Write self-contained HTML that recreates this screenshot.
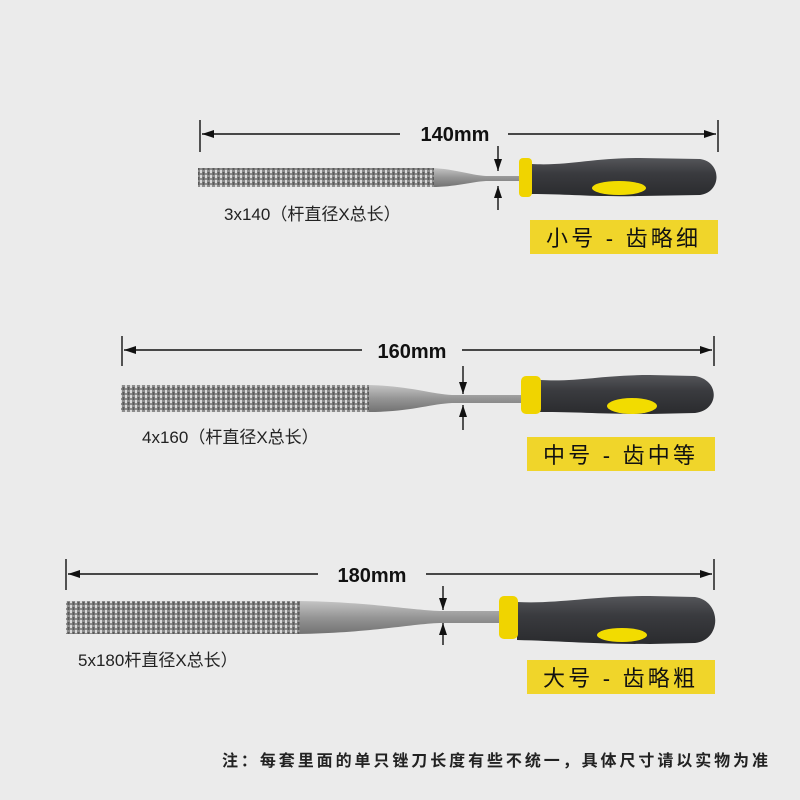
<!DOCTYPE html>
<html><head><meta charset="utf-8"><style>
body{margin:0;background:#ebebeb}
svg{display:block}
text{font-family:"Liberation Sans","Noto Sans CJK SC",sans-serif}
</style></head><body>
<svg width="800" height="800" viewBox="0 0 800 800" xmlns="http://www.w3.org/2000/svg">
<defs>
<pattern id="rasp" width="5" height="5" patternUnits="userSpaceOnUse">
<rect width="5" height="5" fill="#8c8c8c"/>
<rect x="0" y="0" width="2" height="3" fill="#dadada"/>
<rect x="2.5" y="2" width="2" height="3" fill="#5a5a5a"/>
</pattern>
<linearGradient id="steel" x1="0" y1="0" x2="0" y2="1">
<stop offset="0" stop-color="#c4c4c4"/><stop offset="0.5" stop-color="#959595"/><stop offset="1" stop-color="#727272"/>
</linearGradient>
<linearGradient id="hd" x1="0" y1="0" x2="0" y2="1">
<stop offset="0" stop-color="#55565a"/><stop offset="0.4" stop-color="#3a3b3f"/><stop offset="1" stop-color="#2a2b2e"/>
</linearGradient>
<marker id="ar" markerWidth="12" markerHeight="8" refX="12" refY="4" orient="auto" markerUnits="userSpaceOnUse">
<path d="M0,0 L12,4 L0,8 Z" fill="#111"/></marker>
</defs>
<rect width="800" height="800" fill="#ebebeb"/>
<g stroke="#111" stroke-width="1.4" fill="none">
<line x1="200" y1="120" x2="200" y2="152"/><line x1="718" y1="120" x2="718" y2="152"/>
<line x1="400" y1="134" x2="202" y2="134" marker-end="url(#ar)"/>
<line x1="508" y1="134" x2="716" y2="134" marker-end="url(#ar)"/>
<line x1="498" y1="146" x2="498" y2="171" marker-end="url(#ar)"/>
<line x1="498" y1="210" x2="498" y2="186" marker-end="url(#ar)"/>
<line x1="122" y1="336" x2="122" y2="366"/><line x1="714" y1="336" x2="714" y2="366"/>
<line x1="362" y1="350" x2="124" y2="350" marker-end="url(#ar)"/>
<line x1="462" y1="350" x2="712" y2="350" marker-end="url(#ar)"/>
<line x1="463" y1="366" x2="463" y2="394" marker-end="url(#ar)"/>
<line x1="463" y1="430" x2="463" y2="405" marker-end="url(#ar)"/>
<line x1="66" y1="559" x2="66" y2="590"/><line x1="714" y1="559" x2="714" y2="590"/>
<line x1="318" y1="574" x2="68" y2="574" marker-end="url(#ar)"/>
<line x1="426" y1="574" x2="712" y2="574" marker-end="url(#ar)"/>
<line x1="443" y1="586" x2="443" y2="610" marker-end="url(#ar)"/>
<line x1="443" y1="645" x2="443" y2="623" marker-end="url(#ar)"/>
</g>
<g font-size="20" font-weight="bold" fill="#111" text-anchor="middle">
<text x="455" y="141">140mm</text>
<text x="412" y="358">160mm</text>
<text x="372" y="582">180mm</text>
</g>
<path d="M432,168 C455,169 470,175 486,176 L520,176 L520,181 L486,181 C470,182 455,187 432,187 Z" fill="url(#steel)"/>
<rect x="198" y="168" width="236" height="19" fill="url(#rasp)"/>
<path d="M531,164 C570,166 590,158 640,158 L700,159 C722,162 722,192 700,195 L640,196 C590,197 570,194 531,194 Z" fill="url(#hd)"/>
<ellipse cx="619" cy="188" rx="27" ry="7" fill="#f2dc00"/>
<rect x="519" y="158" width="13" height="39" rx="4" fill="#f0d400"/>
<path d="M368,385 C410,386 430,394 452,395 L522,395 L522,403 L452,403 C430,404 410,412 368,412 Z" fill="url(#steel)"/>
<rect x="121" y="385" width="248" height="27" fill="url(#rasp)"/>
<path d="M540,380 C580,382 600,375 650,375 L695,376 C720,380 720,410 695,413 L650,414 C600,414 580,412 540,412 Z" fill="url(#hd)"/>
<ellipse cx="632" cy="406" rx="25" ry="8" fill="#f2dc00"/>
<rect x="521" y="376" width="20" height="38" rx="5" fill="#f0d400"/>
<path d="M298,601 C370,602 410,610 440,611 L502,611 L502,623 L440,623 C410,624 370,633 298,634 Z" fill="url(#steel)"/>
<rect x="66" y="601" width="234" height="33" fill="url(#rasp)"/>
<path d="M517,602 C560,604 590,596 650,596 L695,597 C722,601 722,640 695,643 L650,644 C590,644 560,641 517,640 Z" fill="url(#hd)"/>
<ellipse cx="622" cy="635" rx="25" ry="7" fill="#f2dc00"/>
<rect x="499" y="596" width="19" height="43" rx="5" fill="#f0d400"/>
<g font-size="17" fill="#222">
<text x="224" y="220">3x140（杆直径X总长）</text>
<text x="142" y="443">4x160（杆直径X总长）</text>
<text x="78" y="666">5x180杆直径X总长）</text>
</g>
<rect x="530" y="220" width="188" height="34" fill="#f0d52a"/>
<rect x="527" y="437" width="188" height="34" fill="#f0d52a"/>
<rect x="527" y="660" width="188" height="34" fill="#f0d52a"/>
<g font-size="22" fill="#111">
<text x="546" y="246" textLength="152" lengthAdjust="spacing">小号 - 齿略细</text>
<text x="543" y="463" textLength="152" lengthAdjust="spacing">中号 - 齿中等</text>
<text x="543" y="686" textLength="152" lengthAdjust="spacing">大号 - 齿略粗</text>
</g>
<text x="222" y="766" font-size="16" font-weight="bold" fill="#222" textLength="546" lengthAdjust="spacing">注：每套里面的单只锉刀长度有些不统一，具体尺寸请以实物为准</text>
</svg>
</body></html>
